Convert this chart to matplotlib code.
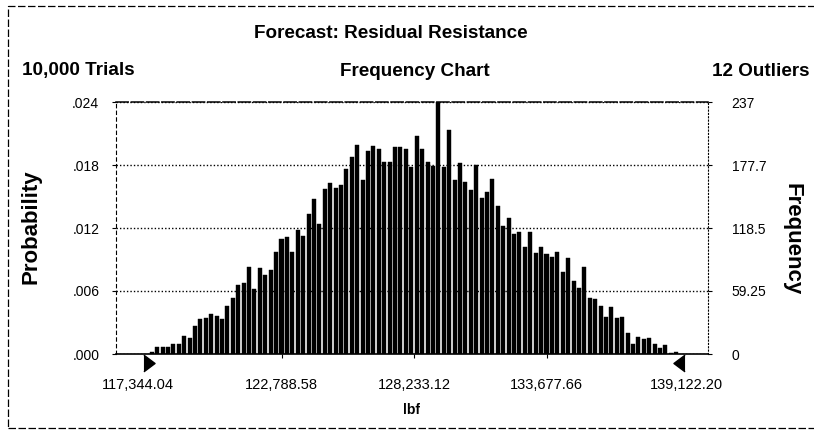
import numpy as np
import matplotlib
matplotlib.use("Agg")
import matplotlib.pyplot as plt
from matplotlib import font_manager
from matplotlib.transforms import ScaledTranslation
from matplotlib.patches import Rectangle

# ---------------- data ----------------
title = "Forecast: Residual Resistance"
subtitle = "Frequency Chart"
trials_text = "10,000 Trials"
outliers_text = "12 Outliers"
x_label = "lbf"
range_min = 117344.04
range_max = 139122.20
x_tick_values = [117344.04, 122788.58, 128233.12, 133677.66, 139122.20]
x_tick_labels = ["117,344.04", "122,788.58", "128,233.12", "133,677.66", "139,122.20"]
freq_ticks = [0, 59.25, 118.5, 177.75, 237]
freq_tick_labels = ["0", "59.25", "118.5", "177.7", "237"]
prob_tick_labels = [".000", ".006", ".012", ".018", ".024"]
frequencies = [
    2, 7, 7, 7, 9, 9, 17, 15, 26, 33,
    34, 38, 36, 33, 45, 53, 65, 67, 82, 61,
    81, 74, 79, 96, 108, 110, 96, 117, 111, 132,
    146, 122, 155, 161, 156, 159, 174, 185, 197, 164,
    191, 196, 193, 181, 181, 195, 195, 193, 176, 205,
    193, 181, 177, 237, 176, 211, 164, 180, 162, 154,
    178, 147, 152, 165, 139, 120, 128, 113, 115, 101,
    115, 95, 101, 94, 91, 96, 77, 90, 69, 62,
    82, 53, 52, 45, 35, 44, 34, 35, 20, 9,
    16, 14, 15, 9, 6, 8, 1, 2,
]

# ---------------- fonts ----------------
names = {f.name for f in font_manager.fontManager.ttflist}
if "Liberation Sans Narrow" in names:
    head_family = ["Liberation Sans Narrow", "Liberation Sans", "DejaVu Sans"]
    head_size = 16
else:
    head_family = ["Liberation Sans", "DejaVu Sans"]
    head_size = 13.6
plt.rcParams["font.family"] = ["Liberation Sans", "DejaVu Sans"]

W, H = 814, 434
fig = plt.figure(figsize=(W / 100, H / 100), dpi=100)

# plot area in pixels
L, R, T, B = 116, 708, 102, 354
ax = fig.add_axes([L / W, 1 - B / H, (R - L) / W, (B - T) / H])

n = len(frequencies)
edges = np.linspace(range_min, range_max, n + 1)
centers = (edges[:-1] + edges[1:]) / 2
bw = edges[1] - edges[0]
ax.bar(centers, frequencies, width=bw * 0.74, color="black", zorder=1,
       edgecolor="black", linewidth=0.3)

px = (range_max - range_min) / 530.0
ax.set_xlim(range_min - 33 * px, range_max + 29 * px)
ax.set_ylim(0, freq_ticks[-1])

# y axes
ax.set_yticks(freq_ticks)
ax.set_yticklabels(prob_tick_labels)
ax.tick_params(axis="y", length=3, width=0.8, pad=9, labelsize=10)
ax2 = ax.twinx()
ax2.set_ylim(ax.get_ylim())
ax2.set_yticks(freq_ticks)
ax2.set_yticklabels(freq_tick_labels)
ax2.tick_params(axis="y", length=3, width=0.8, pad=14, labelsize=10)

# grid lines (visible in gaps between bars)
ax.set_axisbelow(False)
ax.yaxis.grid(True, color="black", linestyle=(0, (1, 1.5)), linewidth=1.0)

# x ticks
ax.set_xticks(x_tick_values)
ax.set_xticklabels(x_tick_labels)
ax.tick_params(axis="x", length=3, width=0.8, pad=14, labelsize=10.5)
xt = ax.xaxis.get_major_ticks()
xt[0].tick1line.set_visible(False)
xt[-1].tick1line.set_visible(False)
lbls = ax.get_xticklabels()
lbls[0].set_transform(lbls[0].get_transform() + ScaledTranslation(-0.11, 0, fig.dpi_scale_trans))
lbls[-1].set_transform(lbls[-1].get_transform() + ScaledTranslation(0.07, 0, fig.dpi_scale_trans))
ax.set_xlabel(x_label, family=head_family, fontweight="bold", fontsize=10, labelpad=8)

# spines
for a in (ax, ax2):
    for s in a.spines.values():
        s.set_visible(False)
ax.spines["bottom"].set_visible(True)
ax.spines["bottom"].set_linewidth(1.2)
ax.spines["top"].set_visible(True)
ax.spines["top"].set_linestyle((0, (8, 2)))
ax.spines["top"].set_linewidth(1.1)
ax.spines["left"].set_visible(True)
ax.spines["left"].set_linestyle((0, (3, 3)))
ax.spines["left"].set_linewidth(0.8)
ax2.spines["right"].set_visible(True)
ax2.spines["right"].set_linestyle((0, (1, 2)))
ax2.spines["right"].set_linewidth(0.8)

# range markers (triangles)
tri_r = [(-1, -1.5), (1, 0), (-1, 1.5)]
tri_l = [(1, -1.5), (-1, 0), (1, 1.5)]
mtrans = ax.get_xaxis_transform() + ScaledTranslation(0, -0.09, fig.dpi_scale_trans)
ax.plot([range_min], [0], marker=tri_r, markersize=12, color="black",
        transform=mtrans, clip_on=False, linestyle="none")
ax.plot([range_max], [0], marker=tri_l, markersize=12, color="black",
        transform=mtrans, clip_on=False, linestyle="none")

# axis titles
ax.set_ylabel("Probability", fontweight="bold", fontsize=16, va="center")
ax.yaxis.set_label_coords((31 - L) / (R - L), (B - 227) / (B - T))
ax2.set_ylabel("Frequency", fontweight="bold", fontsize=16, rotation=-90, va="center")
ax2.yaxis.set_label_coords((792 - L) / (R - L), (B - 239) / (B - T))

# header texts
fig.text(391 / W, 1 - 34 / H, title, ha="center", va="center",
         family=head_family, fontweight="bold", fontsize=head_size)
fig.text(22 / W, 1 - 71 / H, trials_text, ha="left", va="center",
         family=head_family, fontweight="bold", fontsize=head_size)
fig.text(415 / W, 1 - 71 / H, subtitle, ha="center", va="center",
         family=head_family, fontweight="bold", fontsize=head_size)
fig.text(810 / W, 1 - 71 / H, outliers_text, ha="right", va="center",
         family=head_family, fontweight="bold", fontsize=head_size)

# outer dashed border
fig.patches.append(Rectangle((8 / W, 1 - 428 / H), (W + 10 - 8) / W, (428 - 6) / H,
                             transform=fig.transFigure, fill=False, edgecolor="black",
                             linewidth=0.9, linestyle=(0, (6, 2))))

fig.savefig("out.png", dpi=100)
